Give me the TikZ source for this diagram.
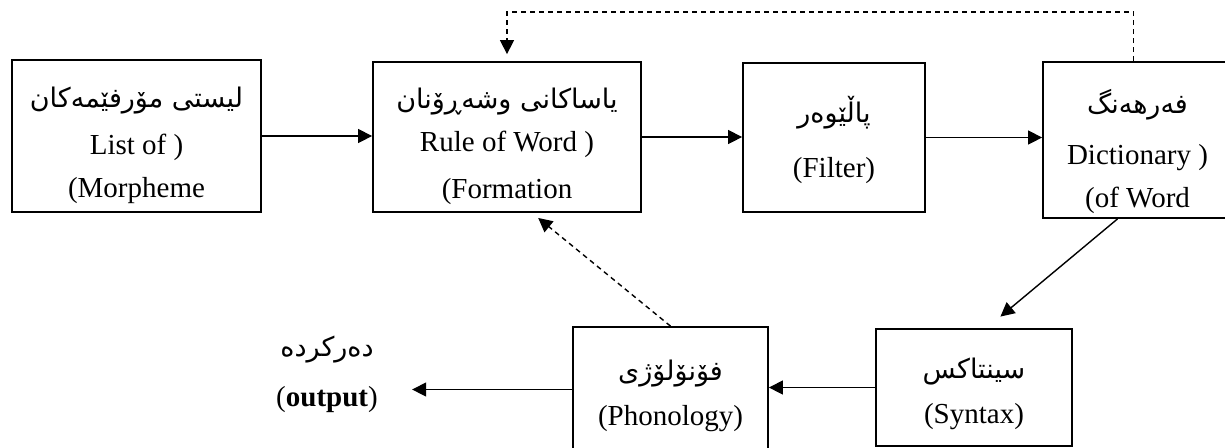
\documentclass[tikz,border=0pt]{standalone}
\usepackage{fontspec}
\setmainfont{Liberation Serif}
\newfontfamily\kurdfont[Script=Arabic]{DejaVu Sans}
\TeXXeTstate=1
\usetikzlibrary{arrows.meta,positioning}
\newcommand{\ku}[1]{{\kurdfont\fontsize{13.5}{21.5}\selectfont\beginR #1\endR}}

\begin{document}
\begin{tikzpicture}[x=0.5pt,y=-0.5pt,
  box/.style={draw, line width=0.9pt, inner sep=0pt},
  txt/.style={align=center, inner sep=0pt, font=\fontsize{14.5}{21.5}\selectfont},
  link/.style={-{Triangle[length=7pt,width=7pt]}, line width=0.7pt},
  back/.style={link, dash pattern=on 2.5pt off 2pt}]
\clip (0,0) rectangle (1225,447);
% top row
\node[box, minimum width=124.5pt, minimum height=76pt] (morph) at (136.5,136) {};
\node[txt] (morphtxt) at (136.5,145) {\ku{لیستی مۆرفێمەکان}\\[2pt]List of )\\(Morpheme};
\node[box, minimum width=134pt, minimum height=75pt] (rule) at (507,137) {};
\node[txt] (ruletxt) at (507,146) {\ku{یاساکانی وشەڕۆنان}\\Rule of Word )\\[2pt](Formation};
\node[box, minimum width=91pt, minimum height=74.5pt] (filter) at (834,137.5) {};
\node[txt] (filtertxt) at (834,139.5) {\ku{پاڵێوەر}\\[6pt](Filter)};
\node[box, minimum width=94.5pt, minimum height=78pt] (dict) at (1137.5,140) {};
\node[txt] (dicttxt) at (1137.5,151) {\ku{فەرهەنگ}\\[4pt]Dictionary )\\(of Word};
% bottom row
\node[box, minimum width=98pt, minimum height=58.5pt] (syntax) at (974,387.5) {};
\node[txt] (syntaxtxt) at (974,393.5) {\ku{سینتاکس}\\[1pt](Syntax)};
\node[box, minimum width=97.5pt, minimum height=62.5pt] (phon) at (670.5,389.5) {};
\node[txt] (phontxt) at (670.5,395.5) {\ku{فۆنۆلۆژی}\\[1pt](Phonology)};
\node[txt, inner xsep=17pt] (outp) at (327,374.5) {\ku{دەرکردە}\\[3.5pt](\textbf{output})};

% arrows
\draw[link] (morph.east) -- (morph.east -| rule.west);
\draw[link] (rule.east) -- (rule.east -| filter.west);
\draw[link] (filter.east) -- (filter.east -| dict.west);
\draw[link, shorten >=9pt] ([xshift=-10pt]dict.south) -- ([xshift=6.3pt]syntax.north);
\draw[link] (syntax.west) -- (syntax.west -| phon.east);
\draw[link] (phon.west) -- (phon.west -| outp.east);

% feedback
\draw[back, shorten >=4pt] (phon.north) -- ([xshift=12.5pt]rule.south);
\coordinate (loop) at (800,12);
\draw[back, shorten >=3.5pt] ([xshift=-2pt]dict.north) |- (loop) -| (rule.north);
\end{tikzpicture}
\end{document}
